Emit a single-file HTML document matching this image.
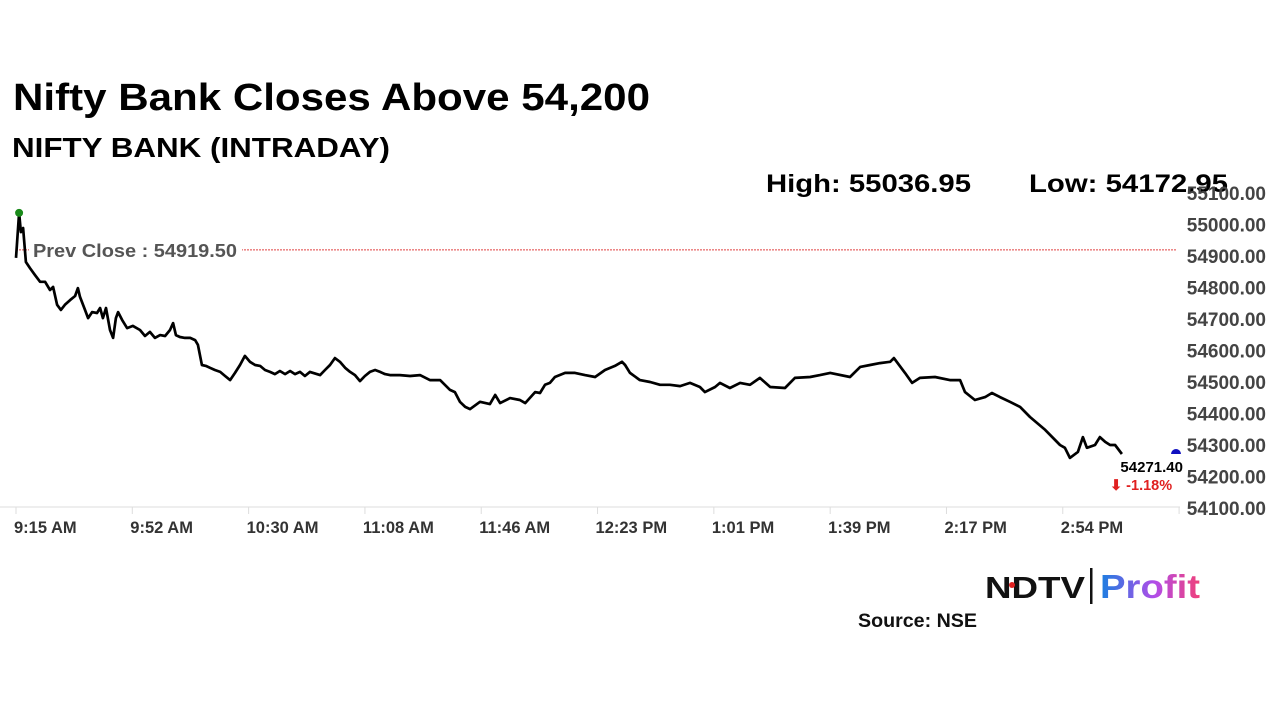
<!DOCTYPE html>
<html><head><meta charset="utf-8">
<style>
html,body{margin:0;padding:0;background:#fff;}
svg{display:block;font-family:"Liberation Sans",sans-serif;}
</style></head>
<body>
<svg id="chart" width="1280" height="719" viewBox="0 0 1280 719" xmlns="http://www.w3.org/2000/svg">
<defs>
<linearGradient id="pg" x1="0" x2="1" y1="0" y2="0">
<stop offset="0" stop-color="#1a7fe0"/><stop offset="0.55" stop-color="#b24de8"/><stop offset="1" stop-color="#f0407a"/>
</linearGradient>
</defs>
<text x="13" y="110" font-size="38" font-weight="bold" fill="#000" textLength="637" lengthAdjust="spacingAndGlyphs">Nifty Bank Closes Above 54,200</text>
<text x="12" y="157" font-size="28" font-weight="bold" fill="#000" textLength="378" lengthAdjust="spacingAndGlyphs">NIFTY BANK (INTRADAY)</text>
<text x="766" y="192" font-size="25" font-weight="bold" fill="#000" textLength="205" lengthAdjust="spacingAndGlyphs">High: 55036.95</text>
<text x="1029" y="192" font-size="25" font-weight="bold" fill="#000" textLength="199" lengthAdjust="spacingAndGlyphs">Low: 54172.95</text>
<g id="yaxis"></g>
<g id="xaxis"></g>
<g id="prev"></g>
<g id="series"></g>
<text x="858" y="627" font-size="19" font-weight="bold" fill="#111" textLength="119" lengthAdjust="spacingAndGlyphs">Source: NSE</text>
<g>
<text x="985" y="598" font-size="31" font-weight="900" fill="#111" textLength="100" lengthAdjust="spacingAndGlyphs">NDTV</text>
<circle cx="1012" cy="585" r="3" fill="#e02020"/>
<rect x="1090" y="568" width="2.5" height="36" fill="#111"/>
<text x="1100" y="598" font-size="33" font-weight="bold" fill="url(#pg)" textLength="100" lengthAdjust="spacingAndGlyphs">Profit</text>
</g>
</svg>
<script>
const NS="http://www.w3.org/2000/svg";
const yTicks=[54100,54200,54300,54400,54500,54600,54700,54800,54900,55000,55100];
const xTickLabels=["9:15 AM","9:52 AM","10:30 AM","11:08 AM","11:46 AM","12:23 PM","1:01 PM","1:39 PM","2:17 PM","2:54 PM"];
const xTickMinutes=[0,37.6,75.2,112.8,150.4,188,225.6,263.2,300.8,338.4,376];
const minutes=[0,0.3,1,1.6,2.3,3.2,4.5,6.1,7.8,9.4,11,12,13.3,14.5,15.8,17.5,19.1,20,20.7,22.3,23.3,24.6,26.2,27.2,28.1,29.1,30.4,31.4,32.3,33,34.3,35.9,37.8,40.1,41.7,43.3,44.9,46.6,48.2,49.8,50.8,51.7,53,54.6,56.3,57.9,58.8,60.1,61.4,62.7,64.3,66,67.6,69.2,70.8,72.4,74,75.6,77.3,78.9,80.5,82.1,83.7,85.3,87,88.6,90.2,91.8,93.4,95,98.3,99.9,101.5,103.1,104.7,106.4,108,109.6,111.2,112.8,114.4,116.1,117.7,119.3,120.9,124.1,127.4,130.6,133.8,137.1,140.3,141.9,143.5,145.2,146.8,150,153.2,154.9,156.5,159.7,162.9,164.6,167.8,169.4,171,172.6,174.2,177.5,180.7,183.9,187.2,190.4,193.6,195.9,196.9,198.5,201.7,205,208.2,211.4,214.7,217.9,221.1,222.7,226,227.6,230.8,234.1,237.3,240.5,243.8,248.6,251.8,256.7,259.9,263.2,269.6,272.9,276.1,279.3,282.6,283.8,287.4,289.7,292.2,297.1,301.9,305.2,306.8,310,313.3,315.5,318.1,321.3,324.6,327.8,332.7,335.9,337.5,339.1,340.7,343.3,344.9,346.2,348.8,350.4,352.1,353.7,355.3,357.5];
const prices=[54894,54935,55037,54976,54989,54881,54862,54840,54818,54818,54792,54802,54745,54729,54745,54760,54773,54798,54770,54729,54703,54722,54719,54735,54703,54735,54665,54640,54703,54722,54697,54671,54678,54665,54646,54659,54640,54649,54646,54665,54687,54649,54643,54640,54640,54633,54618,54554,54551,54545,54538,54532,54519,54506,54529,54554,54583,54564,54554,54551,54538,54532,54525,54535,54525,54535,54525,54532,54519,54532,54522,54538,54554,54576,54564,54545,54532,54522,54503,54519,54532,54538,54532,54525,54522,54522,54519,54522,54506,54506,54475,54468,54437,54421,54414,54437,54430,54459,54433,54449,54443,54433,54468,54465,54491,54497,54516,54529,54529,54522,54516,54538,54551,54564,54554,54529,54506,54500,54491,54491,54487,54497,54484,54468,54484,54497,54481,54497,54491,54513,54484,54481,54513,54516,54522,54529,54516,54548,54554,54560,54564,54576,54529,54497,54513,54516,54506,54506,54468,54443,54452,54465,54452,54437,54421,54389,54348,54316,54300,54291,54259,54278,54325,54291,54300,54325,54310,54300,54300,54271.4];
const prevClose=54919.50;
const lastPrice=54271.40;
const pctChange="-1.18%";
const X=m=>16+m*(1160/375);
const Y=p=>508-(p-54100)*0.315;
function mk(tag,attrs,parent){const e=document.createElementNS(NS,tag);for(const k in attrs)e.setAttribute(k,attrs[k]);parent.appendChild(e);return e;}
const ya=document.getElementById('yaxis');
yTicks.forEach(v=>{
  const t=mk('text',{x:1266,y:Y(v)+7,'text-anchor':'end','font-size':19,'font-weight':'bold',fill:'#444'},ya);
  
  
  t.textContent=v.toFixed(2);
});
const xa=document.getElementById('xaxis');
const axl=mk('line',{x1:0,x2:1180,y1:507,y2:507,stroke:'#ddd','stroke-width':1},xa);


xTickMinutes.forEach((m,i)=>{
  const tk=mk('line',{x1:X(m),x2:X(m),y1:507,y2:514,stroke:'#ddd'},xa);
  
  
  if(xTickLabels[i]){
    const t=mk('text',{x:X(m)-2,y:533,'font-size':16.5,'font-weight':'bold',fill:'#333'},xa);
    
    
    t.textContent=xTickLabels[i];
  }
});
const pg=document.getElementById('prev');
const pl=mk('line',{x1:X(0),x2:X(375),y1:Y(prevClose),y2:Y(prevClose),stroke:'#e04040','stroke-width':1,'stroke-dasharray':'2,1'},pg);


const bg=mk('rect',{x:29,y:Y(prevClose)-12,width:213,height:24,fill:'#fff'},pg);


const pt=mk('text',{x:33,y:Y(prevClose)+7,'font-size':18.5,'font-weight':'bold',fill:'#555',textLength:204,lengthAdjust:'spacingAndGlyphs'},pg);


pt.textContent='Prev Close : '+prevClose.toFixed(2);
const sg=document.getElementById('series');
const d=minutes.map((m,i)=>(i?'L':'M')+X(m).toFixed(1)+','+Y(prices[i]).toFixed(1)).join(' ');
const path=mk('path',{d:d,fill:'none',stroke:'#000','stroke-width':2.7,'stroke-linejoin':'round'},sg);


const hi=mk('circle',{cx:X(minutes[2]),cy:Y(prices[2]),r:4,fill:'#1a8a1a'},sg);


const ld=mk('path',{d:`M${X(375)-5},${Y(lastPrice)} a5,5 0 0 1 10,0 z`,fill:'#1010c0'},sg);


const lv=mk('text',{x:1183,y:472,'text-anchor':'end','font-size':15,'font-weight':'bold',fill:'#000'},sg);


lv.textContent=lastPrice.toFixed(2);
const pc=mk('text',{x:1110,y:490,'font-size':14.5,'font-weight':'bold',fill:'#e02020'},sg);


pc.textContent='\u2B07 '+pctChange;
</script>
</body></html>
